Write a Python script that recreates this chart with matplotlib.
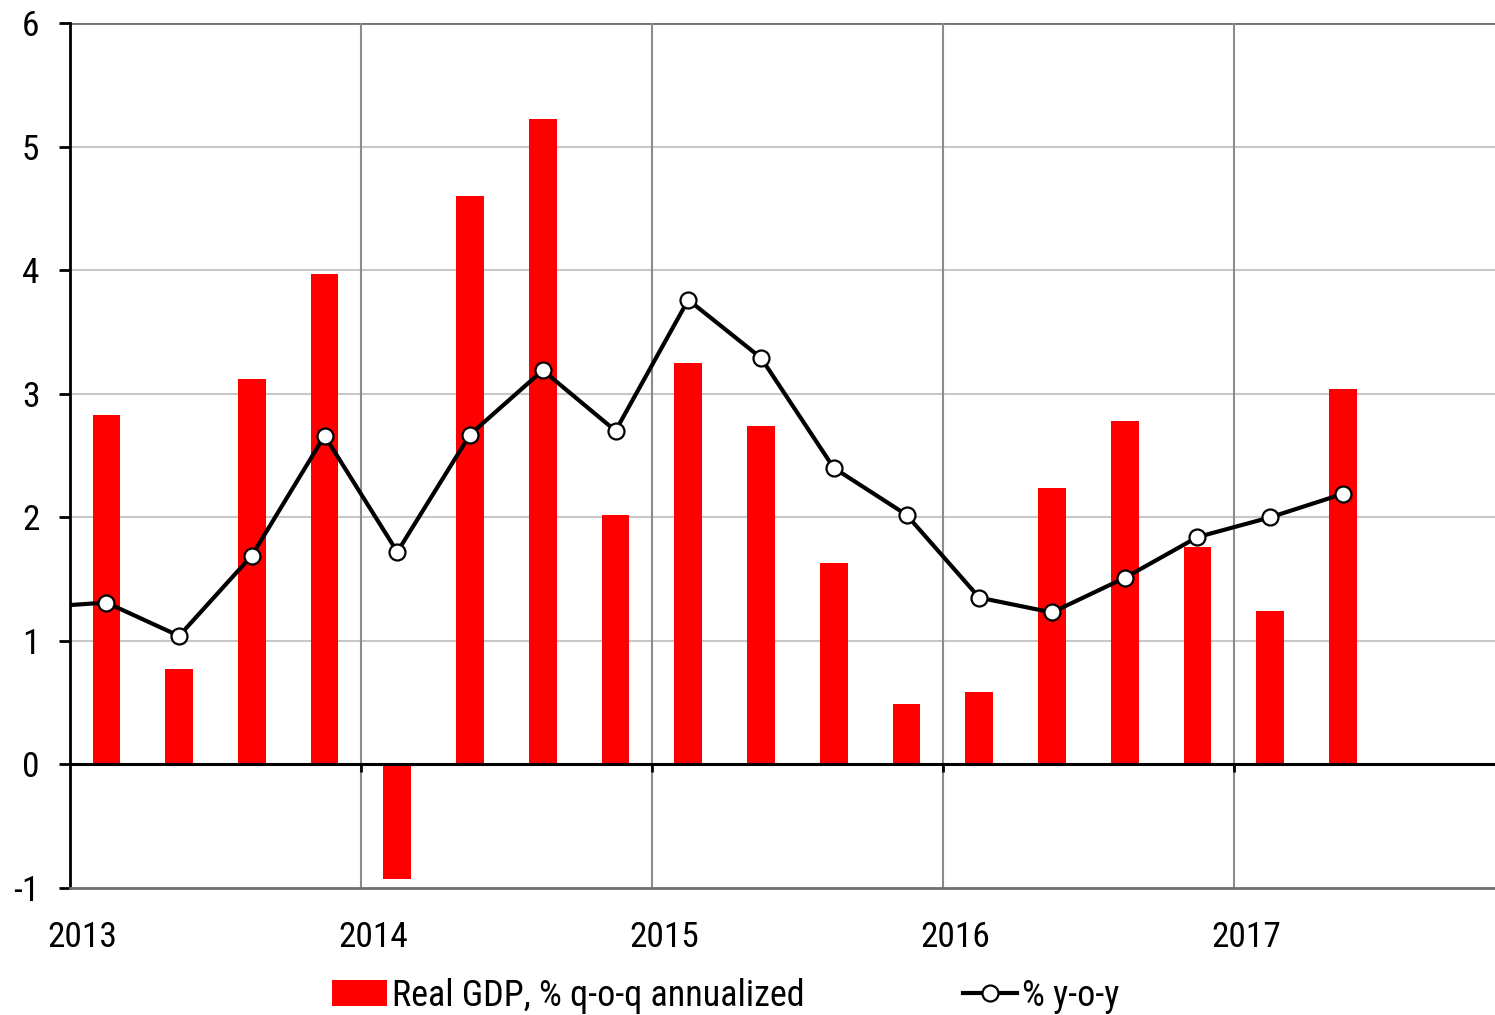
import matplotlib
matplotlib.use("Agg")
import matplotlib.pyplot as plt
import numpy as np
from matplotlib.patches import Patch
from matplotlib.lines import Line2D

plt.rcParams['font.family'] = ['Liberation Sans Narrow', 'Arial Narrow', 'Roboto Condensed',
                               'Open Sans Condensed', 'Liberation Sans', 'DejaVu Sans']

years = ["2013", "2014", "2015", "2016", "2017"]
gdp_qoq = [2.83, 0.77, 3.12, 3.97, -0.93, 4.60, 5.22, 2.02, 3.25, 2.74,
           1.63, 0.49, 0.59, 2.24, 2.78, 1.76, 1.24, 3.04]
# first value is 2012 Q4 (only its connecting segment is visible)
gdp_yoy = [1.27, 1.31, 1.04, 1.69, 2.66, 1.72, 2.67, 3.19, 2.70, 3.76, 3.29,
           2.40, 2.02, 1.35, 1.23, 1.51, 1.84, 2.00, 2.19]
yticks = [-1, 0, 1, 2, 3, 4, 5, 6]

FS = 25.5
FSL = 26

fig = plt.figure(figsize=(14.95, 10.15), dpi=100)
ax = fig.add_axes([0.0468, 0.1251, 0.9532, 0.8522])

xb = np.arange(len(gdp_qoq)) + 0.5
xl = np.arange(len(gdp_yoy)) - 0.5

ax.set_xlim(0, 19.59)
ax.set_ylim(-1, 6)

# grid
for y in yticks[2:-1]:
    ax.axhline(y, color='#c8c8c8', lw=1.5, zorder=0)
ax.axhline(6, color='#707070', lw=2, zorder=0)
for i in range(1, len(years)):
    ax.axvline(i * 4, color='#8c8c8c', lw=1.5, zorder=0)

ax.bar(xb, gdp_qoq, width=0.38, color='#ff0000', zorder=2)
ax.axhline(0, color='black', lw=2.2, zorder=3)
ax.plot(xl, gdp_yoy, color='black', lw=3, marker='o', markersize=11.5,
        markerfacecolor='white', markeredgecolor='black', markeredgewidth=1.6,
        zorder=4, clip_on=True)

# spines
for s in ['top', 'right']:
    ax.spines[s].set_visible(False)
ax.spines['left'].set_color('black')
ax.spines['left'].set_linewidth(2)
ax.spines['bottom'].set_color('#707070')
ax.spines['bottom'].set_linewidth(2)

ax.set_yticks(yticks)
ax.set_yticklabels([str(v) for v in yticks])
ax.tick_params(axis='y', direction='out', length=8, width=2, labelsize=FS, pad=14)

# year labels at bottom
ax.set_xticks(np.arange(len(years)) * 4 + 0.17)
ax.set_xticklabels(years)
ax.tick_params(axis='x', length=0, labelsize=FS, pad=24)

# tick marks on zero line
sec = ax.secondary_xaxis(1 / 7)
sec.set_xticks(np.arange(1, len(years)) * 4)
sec.set_xticklabels([])
sec.tick_params(direction='out', length=6, width=2, color='black')
sec.spines['bottom'].set_visible(False)

handles = [Patch(facecolor='#ff0000', edgecolor='none'),
           Line2D([], [], color='black', lw=3, marker='o', markersize=11.5,
                  markerfacecolor='white', markeredgecolor='black', markeredgewidth=1.6)]
fig.legend(handles, ["Real GDP, % q-o-q annualized", "% y-o-y"], loc='center',
           bbox_to_anchor=(0.4856, 0.019), ncol=2, frameon=False, fontsize=FSL,
           handlelength=1.5, handleheight=0.7, handletextpad=0.14, columnspacing=4.4)

fig.savefig("out.png", dpi=100)
